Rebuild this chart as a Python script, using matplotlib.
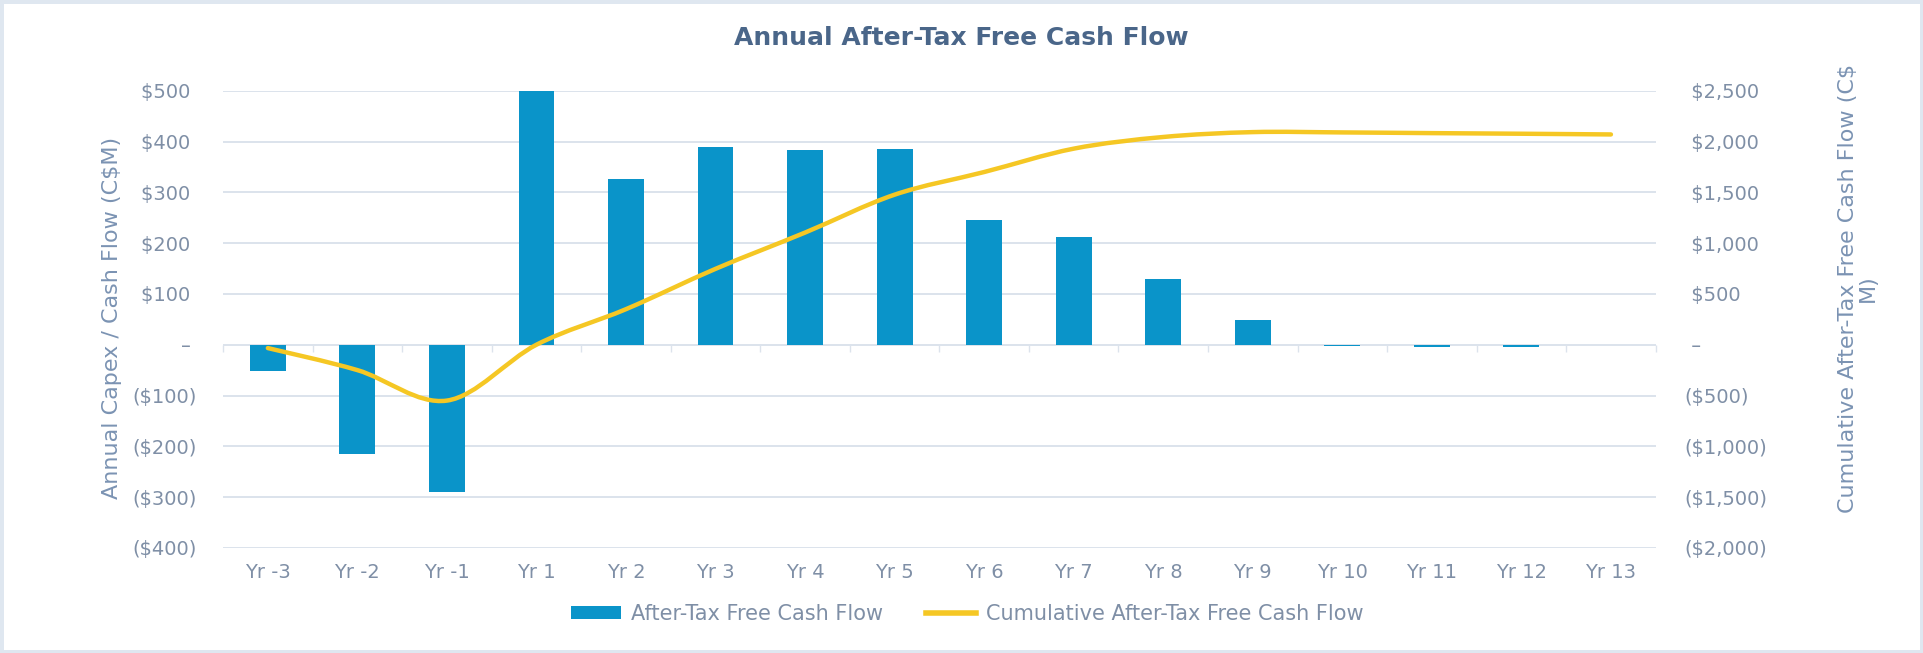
import matplotlib.pyplot as plt
import numpy as np
from matplotlib.path import Path
from matplotlib.patches import PathPatch, Rectangle, Patch
from matplotlib.lines import Line2D
from matplotlib.ticker import FuncFormatter

# values (C$M)
years = ['Yr -3', 'Yr -2', 'Yr -1', 'Yr 1', 'Yr 2', 'Yr 3', 'Yr 4', 'Yr 5',
         'Yr 6', 'Yr 7', 'Yr 8', 'Yr 9', 'Yr 10', 'Yr 11', 'Yr 12', 'Yr 13']
annual_fcf = [-52, -215, -290, 500, 326, 389, 384, 386,
              246, 213, 130, 48, -2, -5, -5, 0]
cumulative_fcf = [-33, -250, -550, 0, 350, 747, 1104, 1477,
                  1700, 1930, 2045, 2093, 2090, 2083, 2077, 2070]

BAR_C = '#0A94C9'
LINE_C = '#F5C724'
GRID_C = '#DCE3EC'
TICK_C = '#7F8FA6'
LABEL_C = '#7B93B3'
TITLE_C = '#4A6689'

Y1_MIN, Y1_MAX = -400, 500
Y2_MIN, Y2_MAX = -2000, 2500


def left_fmt(v, pos):
    if v == 0:
        return '\u2013 '
    if v < 0:
        return f'(${-v:,.0f})'
    return f'${v:,.0f} '


def right_fmt(v, pos):
    if v == 0:
        return ' \u2013'
    if v < 0:
        return f'(${-v:,.0f})'
    return f' ${v:,.0f}'


def smooth_path(xs, ys):
    # Catmull-Rom style bezier through the data points (like Excel's smoothed line)
    pts = np.column_stack([xs, ys]).astype(float)
    n = len(pts)
    verts = [tuple(pts[0])]
    codes = [Path.MOVETO]
    for i in range(n - 1):
        p0 = pts[max(i - 1, 0)]
        p1 = pts[i]
        p2 = pts[i + 1]
        p3 = pts[min(i + 2, n - 1)]
        c1 = p1 + (p2 - p0) / 6.0
        c2 = p2 - (p3 - p1) / 6.0
        verts += [tuple(c1), tuple(c2), tuple(p2)]
        codes += [Path.CURVE4] * 3
    return Path(verts, codes)


fig = plt.figure(figsize=(19.23, 6.53), dpi=100)
ax = fig.add_axes([0.116, 0.161, 0.745, 0.700])
ax2 = ax.twinx()

x = np.arange(len(years))
ax.bar(x, annual_fcf, width=0.4, color=BAR_C, zorder=2)

ax.set_xlim(-0.5, len(years) - 0.5)
ax.set_ylim(Y1_MIN, Y1_MAX)
ax.set_yticks(np.arange(Y1_MIN, Y1_MAX + 1, 100))
ax.yaxis.set_major_formatter(FuncFormatter(left_fmt))
ax.set_xticks(x)
ax.set_xticklabels(years)
ax.grid(axis='y', color=GRID_C, linewidth=1.4)
ax.set_axisbelow(True)
ax.tick_params(axis='y', length=0, pad=19, labelsize=14, labelcolor=TICK_C)
ax.tick_params(axis='x', length=0, pad=11, labelsize=14, labelcolor=TICK_C)

# small category-boundary ticks on the zero line
sec = ax.secondary_xaxis((0 - Y1_MIN) / (Y1_MAX - Y1_MIN))
sec.set_xticks(np.arange(-0.5, len(years), 1))
sec.tick_params(length=5, width=1, color=GRID_C, labelbottom=False)
sec.spines['bottom'].set_visible(False)

ax2.set_ylim(Y2_MIN, Y2_MAX)
ax2.set_yticks(np.arange(Y2_MIN, Y2_MAX + 1, 500))
ax2.yaxis.set_major_formatter(FuncFormatter(right_fmt))
ax2.tick_params(axis='y', length=0, pad=21, labelsize=14, labelcolor=TICK_C)
ax2.add_patch(PathPatch(smooth_path(x, cumulative_fcf), fill=False,
                        edgecolor=LINE_C, linewidth=3.2, capstyle='round',
                        joinstyle='round', zorder=3))

for a in (ax, ax2):
    for s in a.spines.values():
        s.set_visible(False)

fig.text(0.5, 0.942, 'Annual After-Tax Free Cash Flow', ha='center', va='center',
         fontsize=18, fontweight='bold', color=TITLE_C)
fig.text(0.058, 0.513, 'Annual Capex / Cash Flow (C$M)', rotation=90,
         ha='center', va='center', fontsize=16, color=LABEL_C)
fig.text(0.966, 0.559, 'Cumulative After-Tax Free Cash Flow (C$\nM)', rotation=90,
         ha='center', va='center', multialignment='center', fontsize=16,
         color=LABEL_C, linespacing=1.0)

handles = [Patch(facecolor=BAR_C, edgecolor='none'),
           Line2D([], [], color=LINE_C, linewidth=4)]
fig.legend(handles, ['After-Tax Free Cash Flow', 'Cumulative After-Tax Free Cash Flow'],
           loc='center', bbox_to_anchor=(0.503, 0.06), ncol=2, frameon=False,
           fontsize=15, labelcolor=TICK_C, handlelength=2.4, handleheight=0.55,
           handletextpad=0.45, columnspacing=2.1)

fig.patches.append(Rectangle((0, 0), 1, 1, transform=fig.transFigure, fill=False,
                             edgecolor='#DFE7F0', linewidth=5))

fig.savefig('out.png', dpi=100)
plt.close(fig)
